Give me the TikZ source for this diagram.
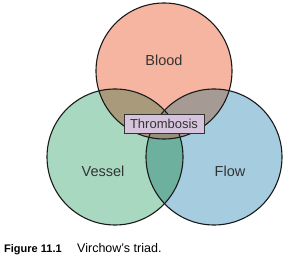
\documentclass[tikz,border=0pt]{standalone}
\usepackage{fontspec}
\setmainfont{Liberation Sans}
\definecolor{cblood}{HTML}{F6B5A0}
\definecolor{cvessel}{HTML}{A8D9C0}
\definecolor{cflow}{HTML}{A6CCE0}
\definecolor{cbv}{HTML}{A99A7C}
\definecolor{cbf}{HTML}{A69A94}
\definecolor{cvf}{HTML}{6DB09E}
\definecolor{cbvf}{HTML}{94917A}
\definecolor{cbox}{HTML}{D6C4DD}
\definecolor{cline}{HTML}{1A1A1A}
\definecolor{ctext}{HTML}{333333}
\tikzset{
  ring/.style={draw=cline, line width=1.1pt},
  lbl/.style={text=ctext, font=\fontsize{14.5}{16}\selectfont, inner sep=0pt},
  thrombox/.style={draw=ctext, line width=0.9pt, fill=cbox, text=ctext, minimum width=80pt, minimum height=19pt, inner sep=0pt, font=\fontsize{13}{15}\selectfont}
}
\begin{document}
\begin{tikzpicture}[x=1pt,y=-1pt]
\useasboundingbox (0,0) rectangle (284,261);
\coordinate (cb) at (164,71);
\coordinate (cv) at (115,157);
\coordinate (cf) at (214,157);
\def\R{68}
\fill[cblood] (cb) circle (\R);
\fill[cvessel] (cv) circle (\R);
\fill[cflow] (cf) circle (\R);
\begin{scope}
  \clip (cb) circle (\R);
  \fill[cbv] (cv) circle (\R);
\end{scope}
\begin{scope}
  \clip (cb) circle (\R);
  \fill[cbf] (cf) circle (\R);
\end{scope}
\begin{scope}
  \clip (cv) circle (\R);
  \fill[cvf] (cf) circle (\R);
\end{scope}
\begin{scope}
  \clip (cb) circle (\R);
  \clip (cv) circle (\R);
  \fill[cbvf] (cf) circle (\R);
\end{scope}
\draw[ring] (cb) circle (\R);
\draw[ring] (cv) circle (\R);
\draw[ring] (cf) circle (\R);
\node[lbl] (blood) at (164,60) {Blood};
\node[lbl] (vessel) at (103,171) {Vessel};
\node[lbl] (flow) at (230,171) {Flow};
\node[thrombox] (thr) at (164,124) {Thrombosis};
\node[anchor=base west, inner sep=0pt, font=\bfseries\fontsize{11}{13}\selectfont] (fig) at (4,253) {Figure 11.1};
\node[anchor=base west, inner sep=0pt, font=\fontsize{12.5}{14}\selectfont] (cap) at (77,253) {Virchow’s triad.};
\end{tikzpicture}
\end{document}
